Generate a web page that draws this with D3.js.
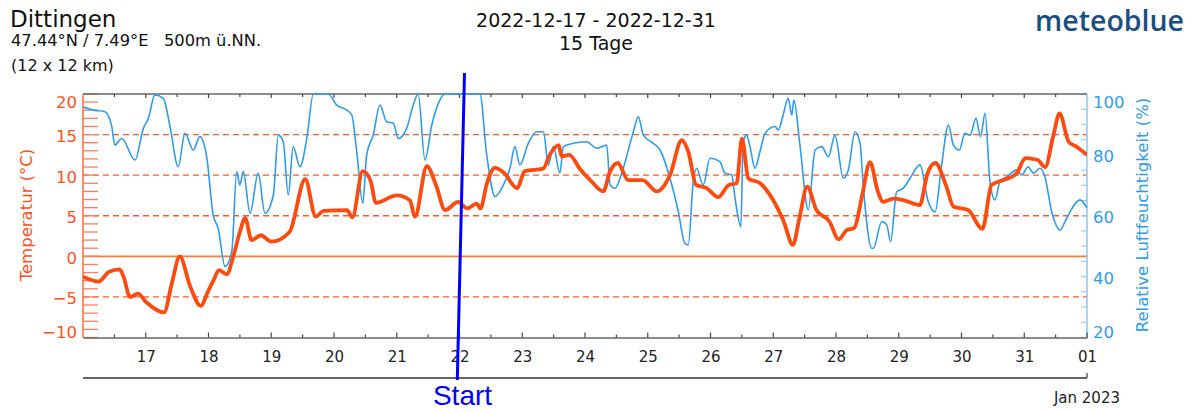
<!DOCTYPE html>
<html>
<head>
<meta charset="utf-8">
<script src="https://cdn.jsdelivr.net/npm/d3@7"></script>
<style>
  body { margin: 0; background: #fff; }
  svg { display: block; font-family: "DejaVu Sans", sans-serif; }
</style>
</head>
<body>
<svg id="chart" width="1200" height="412"></svg>
<script>
// hours since 2022-12-16 00:00 and temperature in °C
var tempHours = [0,6,10,14,15.5,18,21,24,31,34,37,41,45,48,50,52,55,57.5,60,62,64.5,68,72,79,85,89,92,101,103,107,110,112,120,125,127,131.5,135,138.5,143.5,147,150.5,152,154.5,157.5,161,166,169,176,178.5,182,183,186,190,194,199,201.5,204.5,208.5,214,219.5,224.5,229,231.5,234.5,238.5,243,247,250,252,254.5,259,264,268,271.5,274,277,280.5,285.5,289,292,295,298,301,304,306,310,314,320,323,326,330,333,338.5,344,347.5,352,357,360.5,365,368,371,373.5,377,380,384];
var tempValues = [-2.5,-3.1,-1.9,-1.6,-2.5,-5.0,-4.6,-5.6,-6.9,-3.3,0,-3.7,-6.1,-4.2,-2.9,-1.7,-2.2,0,3.0,4.7,2.0,2.6,1.8,3.0,9.5,4.9,5.6,5.7,4.8,10.5,9.3,6.6,7.5,6.9,4.9,11.1,8.8,5.7,6.7,5.9,6.5,5.9,9.0,10.9,10.3,8.4,10.5,10.8,12.5,13.7,12.3,12.5,10.8,9.4,8.0,10.4,11.5,9.4,9.4,8.0,10.0,14.3,12.9,8.8,8.4,7.3,8.8,9.0,14.5,9.6,9.0,6.9,4.3,1.4,4.7,8.6,5.7,4.3,2.1,3.2,3.5,7.5,11.6,8.0,6.7,7.1,6.9,6.3,10.2,11.5,8.8,6.1,5.7,3.4,8.8,9.4,10.2,12.1,11.9,11.0,14.7,17.6,14.1,13.5,12.5];

// hours since 2022-12-16 00:00 and relative humidity in %
var humHours = [0,4,8.4,11,12.2,14.8,19.9,23.1,25,27.5,30.7,33.3,36.4,39,42.2,44.7,47.3,49.8,51.7,54.3,56.9,58.8,60,61.3,63.9,67,69.6,72.8,74.7,76.6,78.5,80.4,83,85.6,88.1,93.8,97,100.9,102.8,104.7,107,108.5,111,113.6,116.1,118.7,120.6,123.8,126.3,128.2,130.8,133.4,135.9,138.5,151.8,154.4,157.6,160.8,163.3,165.2,167.1,170.3,173.5,176.1,178,179.9,182.4,183.7,187.5,192.6,196.5,200.3,201.6,203.5,206.6,210.5,212.4,214.3,218.1,220.7,224.5,227.7,230.2,231.5,233.4,234.7,237.2,239.8,243.6,245.5,248.1,249.4,251.6,252.5,253.8,255.1,257,258.9,260.9,264.7,265.9,267.8,269.7,271.1,271.9,274.2,277.4,280,282.5,285.1,287.6,290.8,292.7,295.3,297.2,298.5,301.7,302.3,305.5,307.4,308.9,311.2,313.7,316.3,320.1,323.3,325.9,328.4,331,332.9,335.2,337.3,339.3,341.5,343.3,345,346.9,348.8,350.7,353.3,357.1,359,361.5,363.5,366,367.9,370.5,373.7,375.6,377.5,381.3,384];
var humValues = [95.8,94.7,94.2,89.3,83.2,85.4,78.3,88.7,92.0,99.7,98.6,89.3,76.1,87.1,81.6,86.0,79.4,60.2,55.9,43.3,48.2,74.5,70.1,74.5,60.8,74.0,60.8,66.8,86.5,84.3,66.8,82.7,76.1,85.4,100,100,96.4,94.7,93.1,81.0,64.1,80.0,86.5,96.4,90.9,90.4,85.4,88.7,96.4,100,78.3,89.8,96.9,100,100,80,66.3,70.1,75.6,82.7,76.7,83.8,87.6,87.6,76.7,82.7,74.0,82.7,83.8,84.3,82.2,83.2,70.1,69.0,75.6,87.6,92.5,86.5,83.8,81.6,72.3,61.3,50.9,50.4,71.2,75.6,70.1,78.9,77.8,74.0,73.4,65.7,56.4,84.3,86.5,82.7,75.6,81.0,87.1,89.3,88.2,93.1,98.6,93.1,98.0,83.2,61.9,81.6,82.7,79.4,86.5,72.3,75.0,87.6,83.8,69.0,49.3,49.3,58.1,57.0,51.5,67.9,69.0,72.3,76.7,64.6,61.3,76.7,89.8,83.2,81.6,87.1,86.5,92.0,86.0,93.7,71.2,65.2,71.2,72.8,75.0,73.4,76.1,74.0,75.6,72.8,61.3,55.3,58.1,61.3,65.2,62.5];

var dayLabels = ["17","18","19","20","21","22","23","24","25","26","27","28","29","30","31","01"];
var tempTicks = [-10,-5,0,5,10,15,20];
var tempDashed = [-5,5,10,15];
var humTicks = [20,40,60,80,100];
var startHour = 144;

var svg = d3.select("#chart");
var L = 83, R = 1087, T = 94, B = 337.5;

var x = d3.scaleLinear().domain([0, 384]).range([L, R]);
var yT = d3.scaleLinear().domain([-10, 20]).range([B, T]);
var yH = d3.scaleLinear().domain([20, 100]).range([B, T]);

var orange = "#ff4f1c", blue = "#2d9cee";

    // header texts
svg.append("text").attr("x", 10).attr("y", 27).style("font-size", "23px").attr("fill", "#111").text("Dittingen");
svg.append("text").attr("x", 11).attr("y", 46).style("font-size", "16.3px").attr("fill", "#111").attr("xml:space", "preserve").text("47.44°N / 7.49°E   500m ü.NN.");
svg.append("text").attr("x", 11).attr("y", 71).style("font-size", "16px").attr("fill", "#111").text("(12 x 12 km)");
svg.append("text").attr("x", 596).attr("y", 27).attr("text-anchor", "middle").style("font-size", "19px").attr("fill", "#111").text("2022-12-17 - 2022-12-31");
svg.append("text").attr("x", 596).attr("y", 50).attr("text-anchor", "middle").style("font-size", "19px").attr("fill", "#111").text("15 Tage");
svg.append("text").attr("x", 1184).attr("y", 31).attr("text-anchor", "end")
    .style("font-family", "'Open Sans', sans-serif").style("font-size", "28.5px").style("font-weight", 600)
    .attr("fill", "#1b4f82").text("meteoblue");

    // clip for the series
svg.append("clipPath").attr("id", "plotclip").append("rect")
    .attr("x", L).attr("y", T - 1).attr("width", R - L).attr("height", B - T + 2);

    // dashed guide lines and zero line
svg.selectAll("line.dash").data(tempDashed).enter().append("line")
    .attr("class", "dash")
    .attr("x1", L).attr("x2", R)
    .attr("y1", function(d){ return yT(d); }).attr("y2", function(d){ return yT(d); })
    .attr("stroke", "#ff5a26").attr("stroke-width", 1.4).attr("stroke-dasharray", "6,4");
svg.append("line").attr("x1", L).attr("x2", R).attr("y1", yT(0)).attr("y2", yT(0))
    .attr("stroke", "#ff7a30").attr("stroke-width", 1.6);

    // left minor ticks every degree
svg.selectAll("line.tmin").data(d3.range(-10, 21)).enter().append("line")
    .attr("class", "tmin")
    .attr("x1", L).attr("x2", L + 15)
    .attr("y1", function(d){ return yT(d); }).attr("y2", function(d){ return yT(d); })
    .attr("stroke", "#ff7d5c").attr("stroke-width", 1.3);

    // right minor ticks every 5 %
svg.selectAll("line.hmin").data(d3.range(20, 101, 5)).enter().append("line")
    .attr("class", "hmin")
    .attr("x1", R - 6).attr("x2", R)
    .attr("y1", function(d){ return yH(d); }).attr("y2", function(d){ return yH(d); })
    .attr("stroke", "#9ccdf2").attr("stroke-width", 1.2);

    // frame
svg.append("line").attr("x1", L).attr("x2", R).attr("y1", T).attr("y2", T).attr("stroke", "#666").attr("stroke-width", 1.5);
svg.append("line").attr("x1", L).attr("x2", L).attr("y1", T).attr("y2", B).attr("stroke", "#ff6a3a").attr("stroke-width", 1.5);
svg.append("line").attr("x1", R).attr("x2", R).attr("y1", T).attr("y2", B).attr("stroke", "#8fc6f0").attr("stroke-width", 1.5);

    // top ticks
var halfDays = d3.range(12, 384, 12);
svg.selectAll("line.ttop").data(halfDays).enter().append("line")
    .attr("class", "ttop")
    .attr("x1", function(d){ return x(d); }).attr("x2", function(d){ return x(d); })
    .attr("y1", T).attr("y2", function(d){ return T + (d % 24 === 0 ? 4 : 3); })
    .attr("stroke", "#444").attr("stroke-width", 1.2);

    // bottom axis with day labels
var xAxis = d3.axisBottom(x)
    .tickValues(dayLabels.map(function(d, i){ return 24 * (i + 1); }))
    .tickFormat(function(d, i){ return dayLabels[i]; })
    .tickSize(0).tickPadding(14);
var gx = svg.append("g").attr("transform", "translate(0," + B + ")").call(xAxis);
gx.select(".domain").attr("stroke", "#666").attr("stroke-width", 1.5);
gx.selectAll("text").style("font-family", "DejaVu Sans").style("font-size", "15px").attr("fill", "#222");
svg.selectAll("line.tbot").data(halfDays.concat([384])).enter().append("line")
    .attr("class", "tbot")
    .attr("x1", function(d){ return x(d); }).attr("x2", function(d){ return x(d); })
    .attr("y1", B).attr("y2", function(d){ return B - (d % 24 === 0 ? 5 : 3); })
    .attr("stroke", "#444").attr("stroke-width", 1.2);

    // second line below the day labels
svg.append("line").attr("x1", L).attr("x2", R).attr("y1", 378).attr("y2", 378).attr("stroke", "#666").attr("stroke-width", 2);
svg.append("line").attr("x1", R).attr("x2", R).attr("y1", 378).attr("y2", 373).attr("stroke", "#666").attr("stroke-width", 1.5);
svg.append("text").attr("x", 1120).attr("y", 403).attr("text-anchor", "end").style("font-size", "15px").attr("fill", "#222").text("Jan 2023");

    // left axis labels
var gyT = svg.append("g").attr("transform", "translate(" + L + ",0)")
    .call(d3.axisLeft(yT).tickValues(tempTicks).tickSize(0).tickPadding(6));
gyT.select(".domain").remove();
gyT.selectAll("text").style("font-family", "DejaVu Sans").style("font-size", "16.5px").attr("fill", orange)
    .attr("dy", function(d){ return d === 20 ? "0.82em" : d === -10 ? "0.0em" : "0.42em"; });

    // right axis labels
var gyH = svg.append("g").attr("transform", "translate(" + R + ",0)")
    .call(d3.axisRight(yH).tickValues(humTicks).tickSize(0).tickPadding(6));
gyH.select(".domain").remove();
gyH.selectAll("text").style("font-family", "DejaVu Sans").style("font-size", "16.5px").attr("fill", blue)
    .attr("dy", function(d){ return d === 100 ? "0.82em" : d === 20 ? "0.0em" : "0.42em"; });

    // axis titles
svg.append("text").attr("transform", "translate(32,215) rotate(-90)").attr("text-anchor", "middle")
    .style("font-size", "16.5px").attr("fill", orange).text("Temperatur (°C)");
svg.append("text").attr("transform", "translate(1148,215) rotate(-90)").attr("text-anchor", "middle")
    .style("font-size", "16.5px").attr("fill", blue).text("Relative Luftfeuchtigkeit (%)");

    // series
var humLine = d3.line()
    .x(function(d, i){ return x(humHours[i]); })
    .y(function(d){ return yH(d); })
    .curve(d3.curveMonotoneX);
svg.append("path").datum(humValues)
    .attr("clip-path", "url(#plotclip)")
    .attr("d", humLine).attr("fill", "none")
    .attr("stroke", blue).attr("stroke-width", 1.6);

var tempLine = d3.line()
    .x(function(d, i){ return x(tempHours[i]); })
    .y(function(d){ return yT(d); })
    .curve(d3.curveMonotoneX);
svg.append("path").datum(tempValues)
    .attr("clip-path", "url(#plotclip)")
    .attr("d", tempLine).attr("fill", "none")
    .attr("stroke", "#fd4a0e").attr("stroke-width", 3.8).attr("stroke-linejoin", "round");

    // start marker
var xs = x(startHour);
svg.append("line").attr("x1", xs + 5).attr("y1", 73).attr("x2", xs - 2.2).attr("y2", 380)
    .attr("stroke", "#0000ff").attr("stroke-width", 3);
svg.append("text").attr("x", xs + 3).attr("y", 405).attr("text-anchor", "middle")
    .style("font-family", "'Liberation Sans', Arial, sans-serif").style("font-size", "28px")
    .attr("fill", "#0000ff").text("Start");
</script>
</body>
</html>
